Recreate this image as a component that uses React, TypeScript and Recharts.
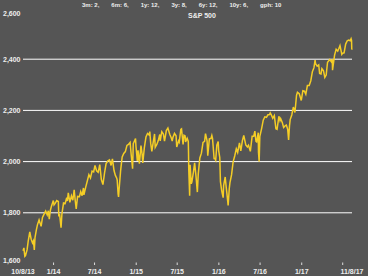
import { LineChart, Line, XAxis, YAxis, ReferenceLine } from "recharts";

// S&P 500 closes (roughly weekly, extra points at the dips)
const dates = [
  "2013-08-19", "2013-08-23", "2013-08-27", "2013-08-30", "2013-09-06", "2013-09-11", "2013-09-18", "2013-09-24",
  "2013-09-30", "2013-10-04", "2013-10-08", "2013-10-11", "2013-10-17", "2013-10-22", "2013-10-29", "2013-11-07",
  "2013-11-13", "2013-11-18", "2013-11-27", "2013-12-04", "2013-12-09", "2013-12-13", "2013-12-18", "2013-12-23",
  "2013-12-31",
  "2014-01-03", "2014-01-08", "2014-01-15", "2014-01-22", "2014-01-24", "2014-01-28", "2014-02-03", "2014-02-07",
  "2014-02-14", "2014-02-21", "2014-02-28", "2014-03-03", "2014-03-07", "2014-03-14", "2014-03-21", "2014-03-27",
  "2014-04-02", "2014-04-07", "2014-04-11", "2014-04-17", "2014-04-25", "2014-05-01", "2014-05-07", "2014-05-13",
  "2014-05-15", "2014-05-23", "2014-05-30", "2014-06-06", "2014-06-13", "2014-06-20", "2014-06-27", "2014-07-03",
  "2014-07-10", "2014-07-17", "2014-07-24", "2014-07-31", "2014-08-07", "2014-08-14", "2014-08-21", "2014-08-29",
  "2014-09-05", "2014-09-12", "2014-09-18", "2014-09-25", "2014-10-01", "2014-10-07", "2014-10-09", "2014-10-13",
  "2014-10-15", "2014-10-17", "2014-10-24", "2014-10-31", "2014-11-07", "2014-11-14", "2014-11-21", "2014-11-28",
  "2014-12-05", "2014-12-10", "2014-12-16", "2014-12-19", "2014-12-29", "2014-12-31",
  "2015-01-06", "2015-01-09", "2015-01-15", "2015-01-22", "2015-01-27", "2015-01-30", "2015-02-06", "2015-02-13",
  "2015-02-20", "2015-02-27", "2015-03-02", "2015-03-06", "2015-03-11", "2015-03-17", "2015-03-23", "2015-03-26",
  "2015-04-02", "2015-04-08", "2015-04-15", "2015-04-17", "2015-04-24", "2015-05-01", "2015-05-06", "2015-05-14",
  "2015-05-21", "2015-05-29", "2015-06-05", "2015-06-09", "2015-06-12", "2015-06-19", "2015-06-26", "2015-06-29",
  "2015-07-07", "2015-07-10", "2015-07-17", "2015-07-20", "2015-07-27", "2015-07-31", "2015-08-05", "2015-08-07",
  "2015-08-14", "2015-08-19", "2015-08-20", "2015-08-21", "2015-08-24", "2015-08-25", "2015-08-27", "2015-09-01",
  "2015-09-04", "2015-09-11", "2015-09-16", "2015-09-22", "2015-09-28", "2015-10-02", "2015-10-09", "2015-10-16",
  "2015-10-23", "2015-10-30", "2015-11-03", "2015-11-10", "2015-11-13", "2015-11-20", "2015-11-27", "2015-12-01",
  "2015-12-04", "2015-12-11", "2015-12-14", "2015-12-18", "2015-12-23", "2015-12-29", "2015-12-31",
  "2016-01-05", "2016-01-08", "2016-01-13", "2016-01-15", "2016-01-20", "2016-01-22", "2016-01-29", "2016-02-02",
  "2016-02-05", "2016-02-11", "2016-02-16", "2016-02-19", "2016-02-26", "2016-03-04", "2016-03-11", "2016-03-18",
  "2016-03-24", "2016-04-01", "2016-04-07", "2016-04-14", "2016-04-20", "2016-04-29", "2016-05-06", "2016-05-11",
  "2016-05-19", "2016-05-27", "2016-06-03", "2016-06-08", "2016-06-13", "2016-06-16", "2016-06-23", "2016-06-24",
  "2016-06-27", "2016-06-30", "2016-07-08", "2016-07-15", "2016-07-22", "2016-07-29", "2016-08-05", "2016-08-12",
  "2016-08-15", "2016-08-19", "2016-08-26", "2016-09-02", "2016-09-09", "2016-09-14", "2016-09-22", "2016-09-27",
  "2016-09-30", "2016-10-07", "2016-10-13", "2016-10-21", "2016-10-25", "2016-10-31", "2016-11-04", "2016-11-08",
  "2016-11-11", "2016-11-18", "2016-11-25", "2016-12-02", "2016-12-09", "2016-12-13", "2016-12-21", "2016-12-30",
  "2017-01-06", "2017-01-13", "2017-01-19", "2017-01-26", "2017-02-03", "2017-02-10", "2017-02-17", "2017-02-24",
  "2017-03-01", "2017-03-03", "2017-03-10", "2017-03-17", "2017-03-21", "2017-03-27", "2017-03-31", "2017-04-07",
  "2017-04-13", "2017-04-19", "2017-04-25", "2017-05-05", "2017-05-12", "2017-05-16", "2017-05-17", "2017-05-26",
  "2017-06-02", "2017-06-09", "2017-06-13", "2017-06-19", "2017-06-27", "2017-06-30", "2017-07-07", "2017-07-14",
  "2017-07-21", "2017-07-27", "2017-08-03", "2017-08-07", "2017-08-09", "2017-08-10", "2017-08-11",
];

const spx = [
  1652, 1663, 1630, 1633, 1655, 1689, 1725, 1697,
  1682, 1690, 1655, 1703, 1733, 1754, 1772, 1747,
  1782, 1791, 1807, 1792, 1808, 1775, 1810, 1827,
  1848,
  1831, 1837, 1848, 1844, 1790, 1792, 1742, 1797,
  1838, 1836, 1859, 1846, 1878, 1841, 1866, 1849,
  1890, 1845, 1815, 1864, 1863, 1883, 1867, 1897,
  1870, 1900, 1924, 1949, 1936, 1963, 1960, 1985,
  1964, 1958, 1988, 1930, 1910, 1955, 1992, 2003,
  2007, 1985, 2011, 1965, 1946, 1935, 1928, 1874,
  1862, 1886, 1964, 2018, 2032, 2039, 2063, 2067,
  2075, 2026, 1972, 2070, 2090, 2059,
  2003, 2044, 1992, 2063, 2029, 1995, 2055, 2096,
  2110, 2104, 2117, 2071, 2040, 2075, 2108, 2056,
  2067, 2081, 2106, 2081, 2117, 2108, 2080, 2121,
  2131, 2107, 2092, 2080, 2094, 2110, 2101, 2057,
  2081, 2076, 2126, 2128, 2067, 2103, 2100, 2077,
  2091, 2079, 2035, 1971, 1893, 1867, 1988, 1913,
  1921, 1961, 1995, 1943, 1881, 1951, 2014, 2033,
  2075, 2079, 2109, 2081, 2023, 2089, 2090, 2102,
  2091, 2012, 2012, 2005, 2064, 2078, 2044,
  2016, 1922, 1890, 1880, 1859, 1906, 1940, 1903,
  1880, 1829, 1895, 1918, 1948, 1999, 2022, 2050,
  2036, 2073, 2042, 2082, 2102, 2065, 2057, 2064,
  2040, 2099, 2099, 2119, 2079, 2077, 2113, 2037,
  2000, 2099, 2130, 2162, 2175, 2173, 2183, 2184,
  2190, 2184, 2169, 2180, 2128, 2126, 2177, 2160,
  2168, 2153, 2133, 2141, 2143, 2126, 2085, 2140,
  2164, 2182, 2213, 2192, 2259, 2271, 2265, 2239,
  2277, 2275, 2263, 2297, 2297, 2316, 2351, 2367,
  2396, 2383, 2373, 2378, 2344, 2342, 2363, 2355,
  2329, 2338, 2388, 2399, 2390, 2400, 2357, 2416,
  2439, 2432, 2440, 2453, 2419, 2423, 2425, 2459,
  2472, 2475, 2472, 2480, 2474, 2438, 2441,
];

const yTicks = [1600, 1800, 2000, 2200, 2400, 2600];
const gridValues = [1800, 2000, 2200, 2400];

const xTickDates = [
  "2013-08-19", "2014-01-01", "2014-07-01", "2015-01-01", "2015-07-01",
  "2016-01-01", "2016-07-01", "2017-01-01", "2017-07-01", "2017-08-11",
];
const xTickLabels = ["10/8/13", "1/14", "7/14", "1/15", "7/15", "1/16", "7/16", "1/17", "", "11/8/17"];

const titleItems = ["3m: 2,", "6m: 6,", "1y: 12,", "3y: 8,", "6y: 12,", "10y: 6,", "gph: 10"];
const subtitle = "S&P 500";

const ts = (d: string) => Date.parse(d + "T00:00:00Z");
const data = dates.map((d, i) => ({ t: ts(d), close: spx[i] }));
const xTicks = xTickDates.map(ts);

const BG = "#555555";
const TEXT = "#eeeeee";
const LINE = "#f4cd26";
const FONT = "'Liberation Sans', Arial, sans-serif";

const YTick = (props: any) => {
  const { y, payload } = props;
  const top = 8;
  const bottom = 264;
  const cy = Math.max(top + 5, Math.min(bottom - 4, y));
  return (
    <text x={3} y={cy} dy={2.5} fill={TEXT} fontSize={7} fontWeight="bold" fontFamily={FONT} textAnchor="start">
      {payload.value.toLocaleString("en-US")}
    </text>
  );
};

const XTick = (props: any) => {
  const { x, y, index } = props;
  const last = xTicks.length - 1;
  const label = xTickLabels[index];
  return (
    <g>
      {index > 0 && index < last && (
        <line x1={x} x2={x} y1={y - 1.5} y2={y + 1} stroke="#dddddd" strokeWidth={1} />
      )}
      {label && (
        <text x={x} y={y + 9.5} fill={TEXT} fontSize={7} fontWeight="bold" fontFamily={FONT} textAnchor="middle">
          {label}
        </text>
      )}
    </g>
  );
};

export default function App() {
  return (
    <div style={{ position: "fixed", left: 0, top: 0, width: 368, height: 276, background: BG }}>
      <div
        style={{
          position: "absolute",
          left: 82,
          top: 1,
          display: "flex",
          gap: 12,
          color: TEXT,
          fontFamily: FONT,
          fontWeight: "bold",
          fontSize: 6,
          lineHeight: "8px",
          whiteSpace: "pre",
        }}
      >
        {titleItems.map((s) => (
          <span key={s}>{s}</span>
        ))}
      </div>
      <div
        style={{
          position: "absolute",
          left: 188,
          top: 11,
          color: TEXT,
          fontFamily: FONT,
          fontWeight: "bold",
          fontSize: 7,
          lineHeight: "9px",
          whiteSpace: "pre",
        }}
      >
        {subtitle}
      </div>
      <LineChart width={368} height={276} data={data} margin={{ top: 8, right: 16, bottom: 0, left: 0 }}>
        <XAxis
          dataKey="t"
          type="number"
          scale="time"
          domain={[xTicks[0], xTicks[xTicks.length - 1]]}
          ticks={xTicks}
          interval={0}
          height={12}
          axisLine={false}
          tickLine={false}
          tickSize={0}
          tickMargin={0}
          tick={<XTick />}
        />
        <YAxis
          domain={[1600, 2600]}
          ticks={yTicks}
          interval={0}
          width={23}
          axisLine={false}
          tickLine={false}
          tickSize={0}
          tickMargin={0}
          tick={<YTick />}
        />
        {gridValues.map((v) => (
          <ReferenceLine key={v} y={v} stroke="#ffffff" strokeWidth={1} />
        ))}
        <Line
          type="linear"
          dataKey="close"
          stroke={LINE}
          strokeWidth={1.5}
          dot={false}
          isAnimationActive={false}
        />
      </LineChart>
    </div>
  );
}
